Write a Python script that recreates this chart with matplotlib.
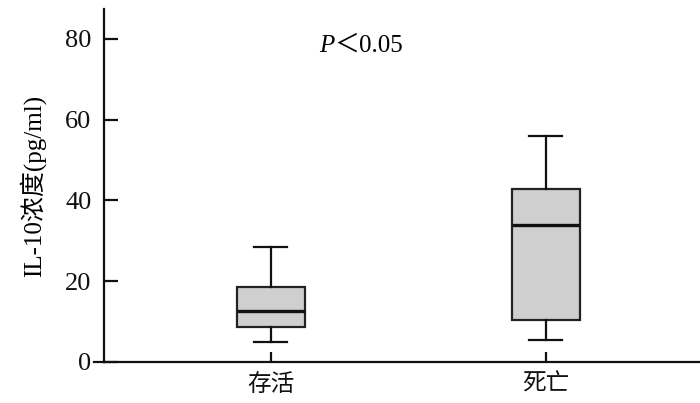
import matplotlib
matplotlib.use("Agg")
import matplotlib.pyplot as plt

# data
groups = ["存活", "死亡"]
whislo = [5.0, 5.4]
q1 = [8.6, 10.4]
med = [12.7, 33.8]
q3 = [18.6, 42.8]
whishi = [28.4, 55.9]
yticks = [0, 20, 40, 60, 80]

plt.rcParams['font.family'] = ['Liberation Serif', 'Noto Sans CJK SC']
plt.rcParams['font.size'] = 17

fig = plt.figure(figsize=(7, 4.03), dpi=100)
ax = fig.add_axes([104 / 700, 41 / 403, 596 / 700, 353 / 403])

stats = []
for i in range(len(groups)):
    stats.append(dict(whislo=whislo[i], q1=q1[i], med=med[i], q3=q3[i],
                      whishi=whishi[i], fliers=[], label=groups[i]))

ax.bxp(stats, positions=[1, 2], widths=0.25, capwidths=0.12,
       showfliers=False, patch_artist=True,
       boxprops=dict(facecolor='#cfcfcf', edgecolor='#222222', linewidth=1.6),
       whiskerprops=dict(color='#111111', linewidth=1.6),
       capprops=dict(color='#111111', linewidth=1.6),
       medianprops=dict(color='#111111', linewidth=2.4))

ax.set_xlim(0.393, 2.56)
ax.set_ylim(0, 87.4)
ax.set_yticks(yticks)
ax.set_xticks([1, 2])
ax.set_xticklabels(groups)
ax.tick_params(axis='both', direction='in', width=1.6, colors='#111111')
ax.tick_params(axis='x', length=7, pad=9)
ax.tick_params(axis='y', length=10, pad=9, labelsize=19)

for s in ['top', 'right']:
    ax.spines[s].set_visible(False)
for s in ['left', 'bottom']:
    ax.spines[s].set_linewidth(1.6)
    ax.spines[s].set_color('#111111')

# x axis line runs a little past the y axis on the left
ax.plot([-0.017, 0], [0, 0], transform=ax.transAxes, clip_on=False,
        color='#111111', linewidth=1.6)

ax.set_ylabel("IL-10浓度(pg/ml)", fontsize=18, labelpad=14)

ax.text(1.232, 78.2, "P", style='italic', ha='right', va='center', fontsize=18)
ax.text(1.232, 78.2, "＜0.05", ha='left', va='center', fontsize=18)

fig.savefig("out.png", dpi=100)
